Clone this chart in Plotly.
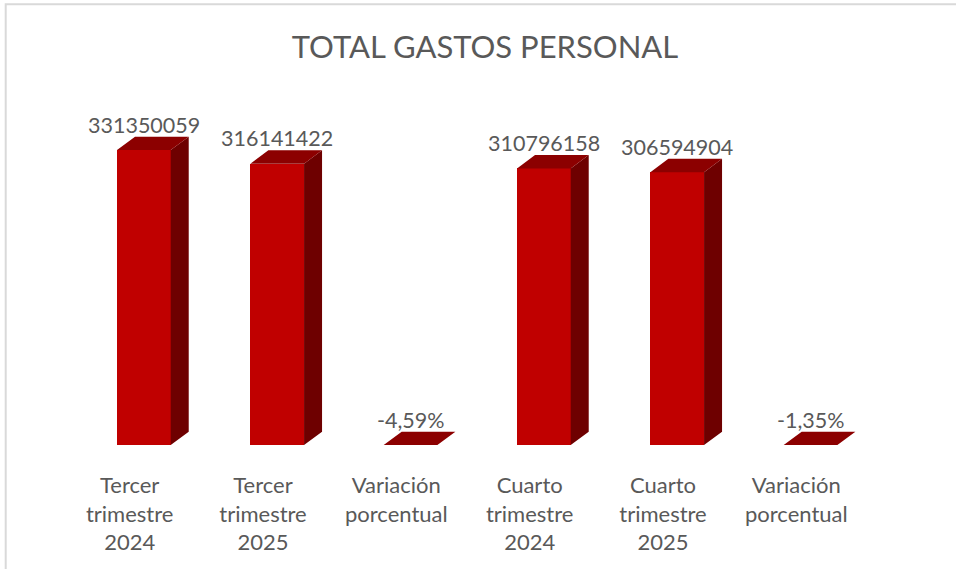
import plotly.graph_objects as go

# ---- data ----
categories = ["Tercer<br>trimestre<br>2024", "Tercer<br>trimestre<br>2025", "Variación<br>porcentual",
              "Cuarto<br>trimestre<br>2024", "Cuarto<br>trimestre<br>2025", "Variación<br>porcentual"]
values = [331350059, 316141422, -0.0459, 310796158, 306594904, -0.0135]
value_labels = ["331350059", "316141422", "-4,59%", "310796158", "306594904", "-1,35%"]
title_text = "TOTAL GASTOS PERSONAL"

# ---- layout geometry ----
W, H = 956, 569
ML, MR, MT, MB = 63.3, 92.7, 89, 124
PW, PH = W - ML - MR, H - MT - MB
YMAX = 400e6
upp = YMAX / PH            # data units per pixel
cat_px = PW / 6.0

off = 14.2 / cat_px        # front face centre offset from category centre
bw = 53.7 / cat_px         # front face width
dx = 18.0 / cat_px         # depth x
dy = 13.3 * upp            # depth y

FRONT = "#C00000"
TOP = "#8C0000"
SIDE = "#6E0000"
GRAY = "#595959"
FONT = "Lato"

xs = list(range(len(categories)))
fig = go.Figure()

fig.add_trace(go.Bar(x=[x + off for x in xs], y=[max(v, 0) for v in values], width=bw,
                     marker=dict(color=FRONT, line=dict(width=0)), hoverinfo="skip",
                     showlegend=False))

sx, sy, tx, ty = [], [], [], []
for x, v in zip(xs, values):
    h = max(v, 0)
    xl = x + off - bw / 2
    xr = x + off + bw / 2
    if h > 0:
        sx += [xr, xr + dx, xr + dx, xr, xr, None]
        sy += [0, dy, h + dy, h, 0, None]
    tx += [xl, xr, xr + dx, xl + dx, xl, None]
    ty += [h, h, h + dy, h + dy, h, None]

fig.add_trace(go.Scatter(x=sx, y=sy, mode="lines", fill="toself", fillcolor=SIDE,
                         line=dict(width=0, color=SIDE), hoverinfo="skip", showlegend=False))
fig.add_trace(go.Scatter(x=tx, y=ty, mode="lines", fill="toself", fillcolor=TOP,
                         line=dict(width=0, color=TOP), hoverinfo="skip", showlegend=False))

for x, v, lab in zip(xs, values, value_labels):
    fig.add_annotation(x=x + off, y=max(v, 0) + dy, text=lab, showarrow=False,
                       xanchor="center", yanchor="bottom", yshift=-3,
                       font=dict(family=FONT, size=21.5, color=GRAY))

# chart border
fig.add_shape(type="rect", xref="paper", yref="paper",
              x0=(6 - ML) / PW, x1=(W + 20 - ML) / PW,
              y0=(MT + PH - (H + 20)) / PH, y1=(MT + PH - 4.3) / PH,
              line=dict(color="#D9D9D9", width=2), fillcolor="rgba(0,0,0,0)", layer="below")

fig.update_layout(
    width=W, height=H,
    margin=dict(l=ML, r=MR, t=MT, b=MB, autoexpand=False),
    paper_bgcolor="white", plot_bgcolor="white",
    title=dict(text=title_text, x=485 / W, xanchor="center", xref="container",
               y=1 - 47 / H, yanchor="middle", yref="container",
               font=dict(family=FONT, size=31, color=GRAY)),
    xaxis=dict(range=[-0.5, 5.5], tickvals=xs, ticktext=categories, showgrid=False,
               zeroline=False, showline=False, ticks="", fixedrange=True,
               tickfont=dict(family=FONT, size=22, color=GRAY), ticklabelstandoff=25),
    yaxis=dict(range=[0, YMAX], visible=False, fixedrange=True),
    bargap=0,
)

fig.write_html("out.html", config={"displayModeBar": False},
               post_script="document.body.style.margin='0';document.body.style.overflow='hidden';")
